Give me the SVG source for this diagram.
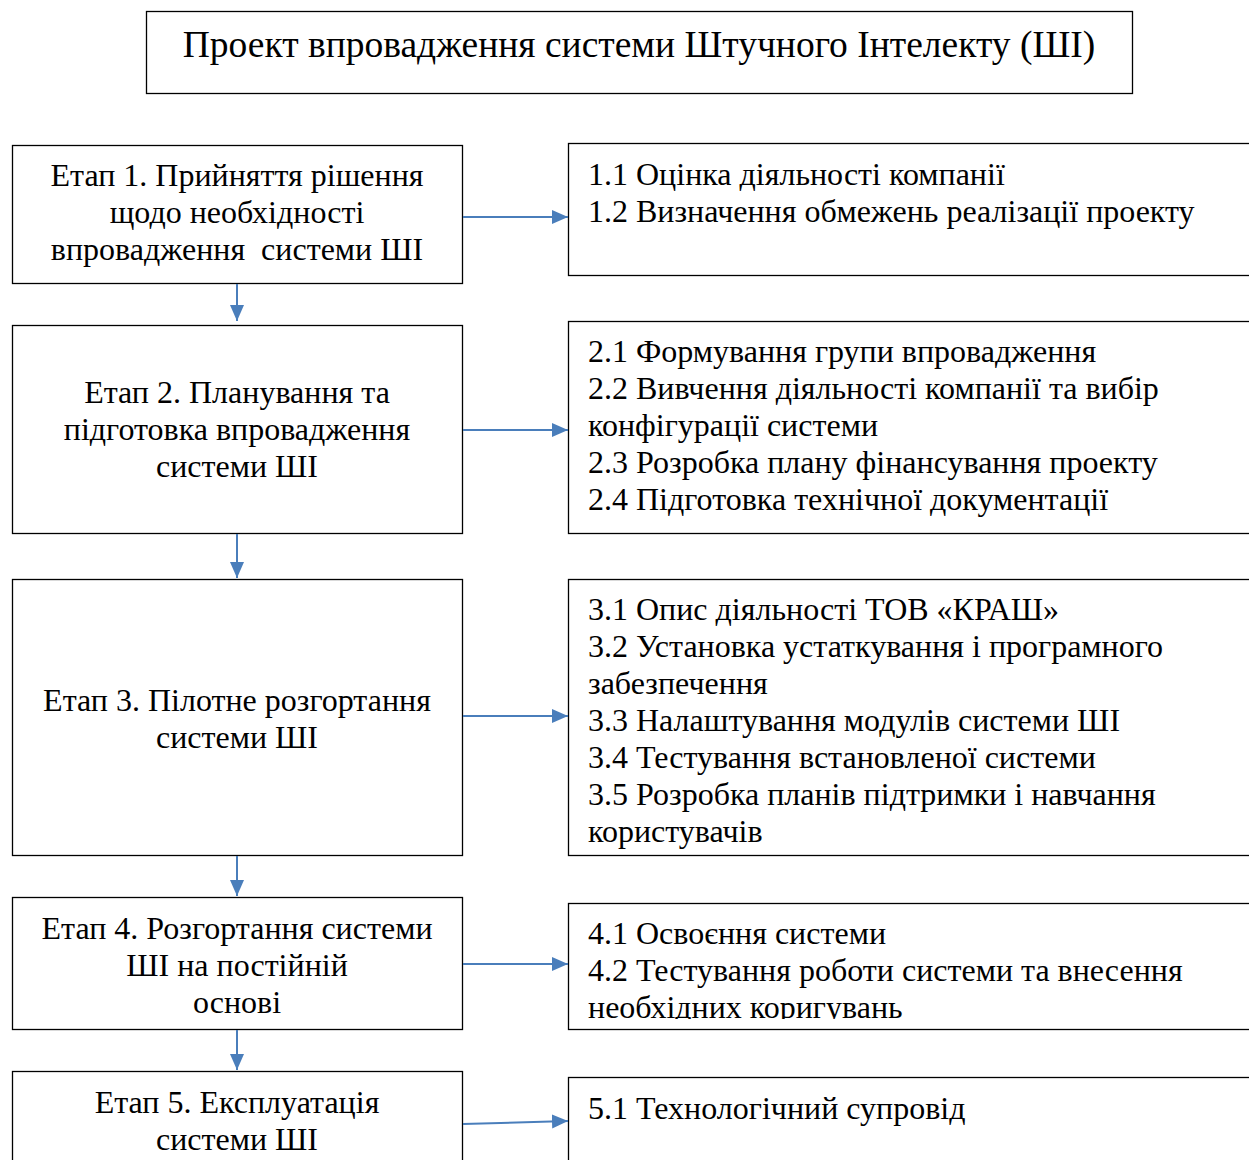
<svg xmlns="http://www.w3.org/2000/svg" width="1249" height="1160" viewBox="0 0 1249 1160">
<style>
.box{fill:#fff;stroke:#000;stroke-width:1.3}
.t{font-family:"Liberation Serif","Times New Roman",serif;font-size:32px;fill:#000}
.c{text-anchor:middle}
.title{font-family:"Liberation Serif","Times New Roman",serif;font-size:37.5px;fill:#000;text-anchor:middle}
.conn{stroke:#4a7ebb;stroke-width:2;fill:none;marker-end:url(#ah)}
</style>
<defs>
<marker id="ah" markerUnits="userSpaceOnUse" markerWidth="16" markerHeight="16" viewBox="0 0 16 16" refX="16" refY="8" orient="auto">
<path d="M0,1 L16,8 L0,15 Z" fill="#4a7ebb"/>
</marker>
<clipPath id="clip4"><rect x="568" y="903" width="700" height="116"/></clipPath>
</defs>
<rect width="1249" height="1160" fill="#fff"/>
<g id="title">
<rect class="box" x="146.5" y="11.5" width="986" height="82"/>
<text class="title" x="639" y="57">Проект впровадження системи Штучного Інтелекту (ШІ)</text>
</g>
<g id="stage1">
<rect class="box" x="12.5" y="145.5" width="450" height="138"/>
<text class="t c" x="237" y="186">Етап 1. Прийняття рішення</text>
<text class="t c" x="237" y="223">щодо необхідності</text>
<text class="t c" x="237" y="260" xml:space="preserve">впровадження  системи ШІ</text>
</g>
<g id="tasks1">
<rect class="box" x="568.5" y="143.5" width="700" height="132"/>
<text class="t" x="588" y="185">1.1 Оцінка діяльності компанії</text>
<text class="t" x="588" y="222">1.2 Визначення обмежень реалізації проекту</text>
</g>
<g id="stage2">
<rect class="box" x="12.5" y="325.5" width="450" height="208"/>
<text class="t c" x="237" y="403">Етап 2. Планування та</text>
<text class="t c" x="237" y="440">підготовка впровадження</text>
<text class="t c" x="237" y="477">системи ШІ</text>
</g>
<g id="tasks2">
<rect class="box" x="568.5" y="321.5" width="700" height="212"/>
<text class="t" x="588" y="362">2.1 Формування групи впровадження</text>
<text class="t" x="588" y="399">2.2 Вивчення діяльності компанії та вибір</text>
<text class="t" x="588" y="436">конфігурації системи</text>
<text class="t" x="588" y="473">2.3 Розробка плану фінансування проекту</text>
<text class="t" x="588" y="510">2.4 Підготовка технічної документації</text>
</g>
<g id="stage3">
<rect class="box" x="12.5" y="579.5" width="450" height="276"/>
<text class="t c" x="237" y="711">Етап 3. Пілотне розгортання</text>
<text class="t c" x="237" y="748">системи ШІ</text>
</g>
<g id="tasks3">
<rect class="box" x="568.5" y="579.5" width="700" height="276"/>
<text class="t" x="588" y="620">3.1 Опис діяльності ТОВ «КРАШ»</text>
<text class="t" x="588" y="657">3.2 Установка устаткування і програмного</text>
<text class="t" x="588" y="694">забезпечення</text>
<text class="t" x="588" y="731">3.3 Налаштування модулів системи ШІ</text>
<text class="t" x="588" y="768">3.4 Тестування встановленої системи</text>
<text class="t" x="588" y="805">3.5 Розробка планів підтримки і навчання</text>
<text class="t" x="588" y="842">користувачів</text>
</g>
<g id="stage4">
<rect class="box" x="12.5" y="897.5" width="450" height="132"/>
<text class="t c" x="237" y="939">Етап 4. Розгортання системи</text>
<text class="t c" x="237" y="976">ШІ на постійній</text>
<text class="t c" x="237" y="1013">основі</text>
</g>
<g id="tasks4">
<rect class="box" x="568.5" y="903.5" width="700" height="126"/>
<g clip-path="url(#clip4)">
<text class="t" x="588" y="944">4.1 Освоєння системи</text>
<text class="t" x="588" y="981">4.2 Тестування роботи системи та внесення</text>
<text class="t" x="588" y="1018">необхідних коригувань</text>
</g>
</g>
<g id="stage5">
<rect class="box" x="12.5" y="1071.5" width="450" height="120"/>
<text class="t c" x="237" y="1113">Етап 5. Експлуатація</text>
<text class="t c" x="237" y="1150">системи ШІ</text>
</g>
<g id="tasks5">
<rect class="box" x="568.5" y="1077.5" width="700" height="120"/>
<text class="t" x="588" y="1119">5.1 Технологічний супровід</text>
</g>
<g id="connectors">
<line class="conn" x1="463" y1="217" x2="568" y2="217"/>
<line class="conn" x1="463" y1="430" x2="568" y2="430"/>
<line class="conn" x1="463" y1="716" x2="568" y2="716"/>
<line class="conn" x1="463" y1="964" x2="568" y2="964"/>
<line class="conn" x1="463" y1="1124" x2="568" y2="1121"/>
<line class="conn" x1="237" y1="284" x2="237" y2="321"/>
<line class="conn" x1="237" y1="534" x2="237" y2="578"/>
<line class="conn" x1="237" y1="856" x2="237" y2="896"/>
<line class="conn" x1="237" y1="1030" x2="237" y2="1070"/>
</g>
</svg>
